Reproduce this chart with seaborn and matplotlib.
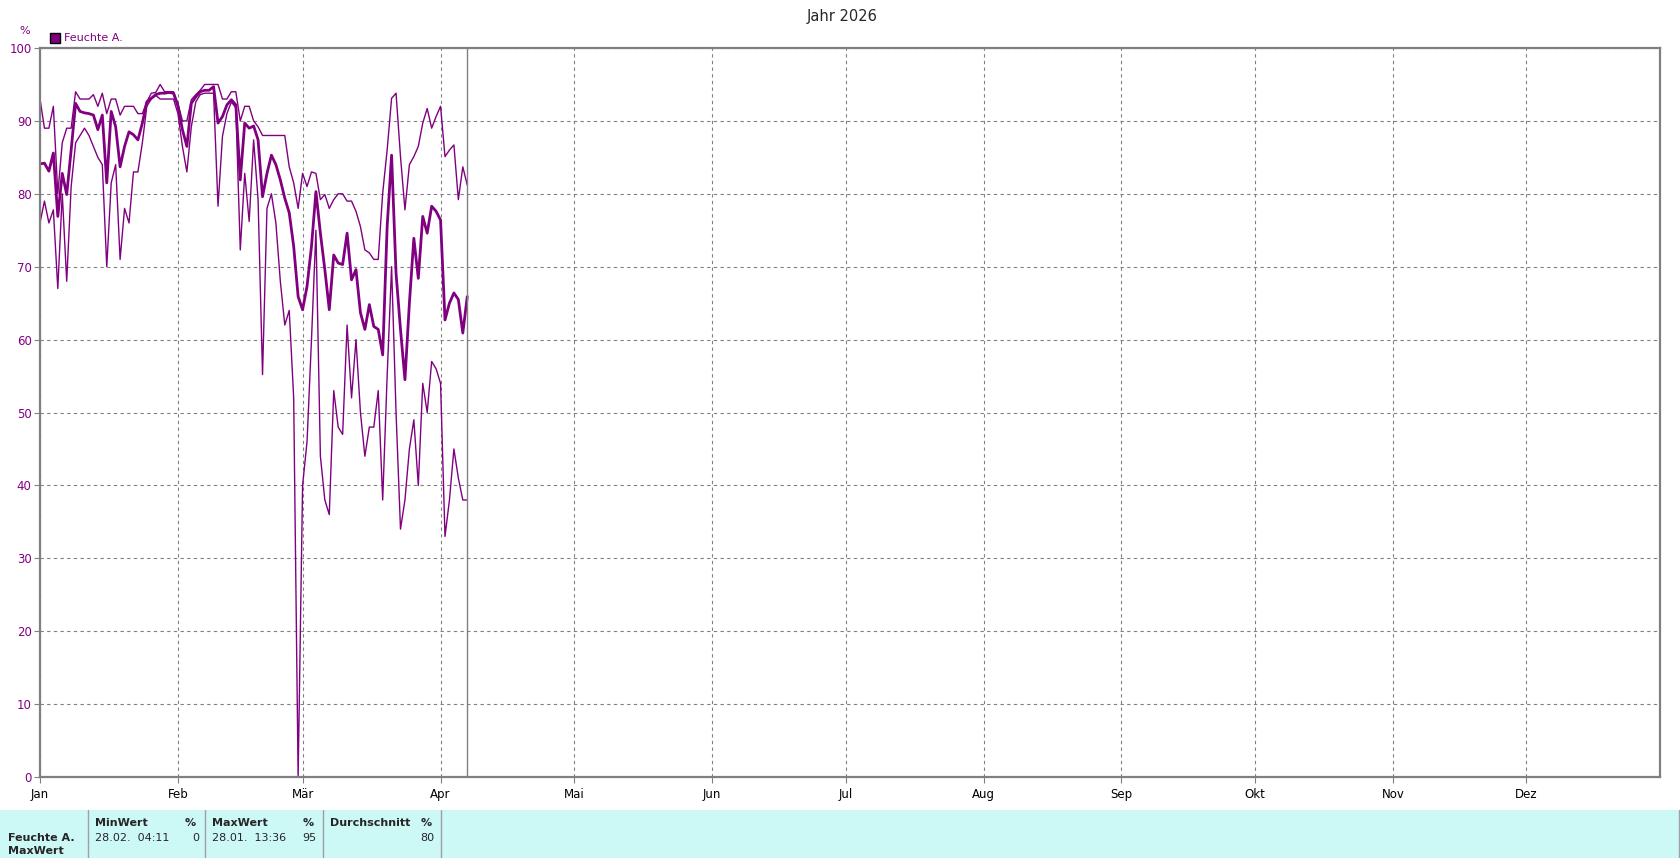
import pandas as pd
import numpy as np
import seaborn as sns
import matplotlib
matplotlib.use("Agg")
import matplotlib.pyplot as plt
from matplotlib.patches import Rectangle
from matplotlib.lines import Line2D

# daily values from 01.01.2026 up to 07.04.2026
max_vals = [93, 89, 89, 92, 80, 87, 89, 89, 94, 93,
            93, 93, 93.6, 92, 93.8, 91, 93, 93, 90.8, 92,
            92, 92, 91, 91, 92.6, 93.8, 93.9, 95, 94, 94,
            94, 92.4, 90, 90, 92.9, 93.6, 94.2, 95, 95, 95,
            95, 93, 93, 94, 94, 90, 92, 92, 90, 89.2,
            88, 88, 88, 88, 88, 88, 83.7, 81.5, 78, 82.8,
            81, 83, 82.8, 79.2, 79.9, 78, 79.2, 80, 80, 79,
            79, 77.6, 75.5, 72.3, 71.9, 71, 71, 80.1, 86, 93.1,
            93.8, 85.1, 77.8, 84, 85.1, 86.5, 89.7, 91.7, 89, 90.6,
            92, 85.1, 86, 86.7, 79.2, 83.7, 81.2]

avg_vals = [84.1, 84.2, 83.1, 85.6, 76.9, 82.8, 79.9, 86, 92.4, 91.3,
            91.1, 91, 90.8, 88.8, 90.8, 81.5, 91.3, 89.2, 83.7, 86.5,
            88.5, 88.1, 87.4, 89.7, 92.6, 93.1, 93.6, 93.8, 93.8, 93.9,
            93.8, 92, 88.8, 86.5, 92.4, 93.3, 94, 94.2, 94.2, 94.7,
            89.7, 90.6, 92.2, 92.9, 92.2, 81.9, 89.7, 89, 89.3, 87.4,
            79.6, 82.8, 85.3, 84, 81.9, 79.4, 77.4, 72.8, 65.9, 64.1,
            67.3, 72.8, 80.3, 74.6, 69.6, 64.1, 71.6, 70.5, 70.3, 74.6,
            68.2, 69.6, 63.7, 61.4, 64.8, 61.8, 61.4, 57.9, 75.5, 85.3,
            69.1, 61.4, 54.5, 65, 73.9, 68.4, 76.9, 74.6, 78.3, 77.6,
            76.4, 62.7, 65, 66.4, 65.5, 60.9, 65.9]

min_vals = [76, 79, 76, 77.8, 67, 80, 68, 81, 87, 88,
            89, 88, 86.5, 85, 84, 70, 81.5, 84, 71, 78,
            76, 83, 83, 87, 92, 93, 93.5, 93, 93, 93,
            93, 91, 86.5, 83, 89.2, 92.6, 93.6, 93.8, 93.8, 93.8,
            78.3, 87.9, 91, 92.6, 91.8, 72.3, 82.8, 76.2, 87.4, 79.2,
            55.2, 78, 80, 76, 68, 62, 64, 52, 0, 40,
            46, 60, 75, 44, 38, 36, 53, 48, 47, 62,
            52, 60, 50, 44, 48, 48, 53, 38, 55, 70,
            50, 34, 38, 45, 49, 40, 54, 50, 57, 56,
            54, 33, 38, 45, 41, 38, 38]

days = pd.date_range("2026-01-01", periods=len(avg_vals), freq="D")
month_labels = ["Jan", "Feb", "Mär", "Apr", "Mai", "Jun",
                "Jul", "Aug", "Sep", "Okt", "Nov", "Dez"]
month_starts = [pd.Timestamp(2026, m, 1) for m in range(1, 13)]
today = pd.Timestamp("2026-04-07")

purple = "#800080"
gray = "#808080"

sns.set_style("white")
plt.rcParams["font.family"] = ["DejaVu Sans"]

fig = plt.figure(figsize=(16.8, 8.58), dpi=100)
ax = fig.add_axes([40 / 1680, 1 - 777 / 858, 1620 / 1680, 729 / 858])

sns.lineplot(x=days, y=max_vals, ax=ax, color=purple, lw=1.0)
sns.lineplot(x=days, y=min_vals, ax=ax, color=purple, lw=1.0)
sns.lineplot(x=days, y=avg_vals, ax=ax, color=purple, lw=2.0)
ax.axvline(today, color=gray, lw=1.0)

ax.set_xlim(pd.Timestamp("2026-01-01"), pd.Timestamp("2026-12-31"))
ax.set_ylim(0, 100)
ax.set_yticks(range(0, 101, 10))
ax.set_xticks(month_starts)
ax.set_xticklabels(month_labels)
ax.set_xlabel("")
ax.set_ylabel("")
ax.grid(True, color=gray, ls=(0, (3, 3)), lw=0.8)
for s in ax.spines.values():
    s.set_color(gray)
    s.set_linewidth(1.6)
ax.tick_params(axis="y", colors=gray, labelcolor=purple, labelsize=8.5,
               length=4, width=0.8, left=True, pad=2)
ax.tick_params(axis="x", colors=gray, labelcolor="black", labelsize=8.5,
               length=4, width=0.8, bottom=True, pad=4)

# header texts
fig.text(842 / 1680, 1 - 16 / 858, "Jahr 2026", ha="center", va="center", fontsize=10.5)
fig.text(25 / 1680, 1 - 31 / 858, "%", ha="center", va="center", fontsize=8, color=purple)
fig.add_artist(Rectangle((50 / 1680, 1 - 43 / 858), 10 / 1680, 10 / 858,
                         transform=fig.transFigure, facecolor=purple, edgecolor="black", lw=1))
fig.text(64 / 1680, 1 - 38 / 858, "Feuchte A.", ha="left", va="center", fontsize=8, color=purple)

# statistics table at the bottom
fig.add_artist(Rectangle((0, 0), 1, 48 / 858, transform=fig.transFigure,
                         facecolor="#ccf8f5", edgecolor="none"))
for xp in [88, 205, 323, 441, 1679]:
    fig.add_artist(Line2D([xp / 1680, xp / 1680], [0, 48 / 858], transform=fig.transFigure,
                          color="#a0a0a0", lw=1))

row1 = 1 - 823 / 858
row2 = 1 - 838 / 858
kw = dict(va="center", fontsize=8)
fig.text(95 / 1680, row1, "MinWert", ha="left", fontweight="bold", **kw)
fig.text(196 / 1680, row1, "%", ha="right", fontweight="bold", **kw)
fig.text(95 / 1680, row2, "28.02.  04:11", ha="left", **kw)
fig.text(199 / 1680, row2, "0", ha="right", **kw)
fig.text(212 / 1680, row1, "MaxWert", ha="left", fontweight="bold", **kw)
fig.text(314 / 1680, row1, "%", ha="right", fontweight="bold", **kw)
fig.text(212 / 1680, row2, "28.01.  13:36", ha="left", **kw)
fig.text(316 / 1680, row2, "95", ha="right", **kw)
fig.text(330 / 1680, row1, "Durchschnitt", ha="left", fontweight="bold", **kw)
fig.text(432 / 1680, row1, "%", ha="right", fontweight="bold", **kw)
fig.text(434 / 1680, row2, "80", ha="right", **kw)
fig.text(8 / 1680, 1 - 838 / 858, "Feuchte A.", ha="left", fontweight="bold", **kw)
fig.text(8 / 1680, 1 - 851 / 858, "MaxWert", ha="left", fontweight="bold", **kw)

fig.savefig("out.png", dpi=100)
plt.close(fig)
